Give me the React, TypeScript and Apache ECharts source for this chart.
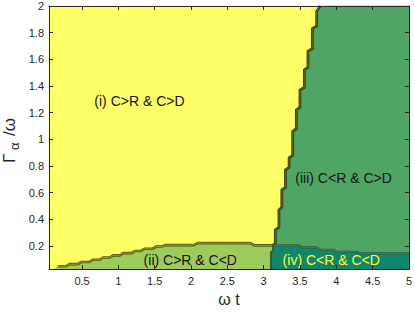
import React, { useEffect, useRef } from 'react';
import * as echarts from 'echarts';

// axis ranges
const xRange: [number, number] = [0.045, 5];
const yRange: [number, number] = [0.027, 2];

// boundary between (i) and (ii), left to right
const boundaryI_II: [number, number][] = [
  [0.12, 0.027], [0.17, 0.048], [0.28, 0.048], [0.33, 0.064], [0.44, 0.064],
  [0.49, 0.08], [0.6, 0.08], [0.65, 0.097], [0.74, 0.097], [0.79, 0.114],
  [0.88, 0.114], [0.93, 0.13], [1.02, 0.13], [1.07, 0.147], [1.18, 0.147],
  [1.23, 0.163], [1.31, 0.163], [1.36, 0.18], [1.47, 0.18], [1.52, 0.196],
  [1.6, 0.196], [1.65, 0.207], [2.04, 0.207], [2.09, 0.222], [2.82, 0.222],
  [2.87, 0.205], [3.13, 0.205],
];

// boundary between (i) and (iii), bottom to top
const boundaryI_III: [number, number][] = [
  [3.13, 0.205], [3.16, 0.22], [3.16, 0.32], [3.21, 0.34], [3.21, 0.47],
  [3.25, 0.49], [3.25, 0.62], [3.3, 0.64], [3.3, 0.77], [3.35, 0.79],
  [3.35, 0.86], [3.4, 0.88], [3.4, 1.06], [3.45, 1.08], [3.45, 1.22],
  [3.5, 1.24], [3.5, 1.37], [3.56, 1.39], [3.56, 1.52], [3.61, 1.54],
  [3.61, 1.66], [3.67, 1.68], [3.67, 1.83], [3.73, 1.85], [3.73, 1.96],
  [3.78, 2.0],
];

// boundary between (iii) and (iv), left to right
const boundaryIII_IV: [number, number][] = [
  [3.13, 0.205], [3.48, 0.205], [3.53, 0.19], [3.73, 0.19], [3.78, 0.172],
  [3.96, 0.172], [4.01, 0.157], [4.28, 0.157], [4.33, 0.145], [5, 0.145],
];

// boundary between (ii) and (iv), bottom to top
const boundaryII_IV: [number, number][] = [
  [3.1, 0.027], [3.1, 0.15], [3.13, 0.17], [3.13, 0.205],
];

// region labels
const regionLabels: { text: string; x: number; y: number }[] = [
  { text: '(i) C>R & C>D', x: 1.29, y: 1.29 },
  { text: '(ii) C>R & C<D', x: 1.99, y: 0.095 },
  { text: '(iii) C<R & C>D', x: 4.1, y: 0.71 },
  { text: '(iv) C<R & C<D', x: 3.93, y: 0.095 },
];

const FONT = "'Liberation Sans', Arial, Helvetica, sans-serif";
const AXIS_COLOR = '#262626';

export default function App() {
  const ref = useRef<HTMLDivElement>(null);

  useEffect(() => {
    const chart = echarts.init(ref.current!, null, { renderer: 'svg' });
    const [x0, x1] = xRange;
    const [y0, y1] = yRange;

    const regionI = [[x0, y1], [x0, y0], ...boundaryI_II, ...boundaryI_III.slice(1)];
    const regionII = [...boundaryI_II, ...[...boundaryII_IV].reverse().slice(1)];
    const regionIII = [...boundaryI_III, [x1, y1], ...[...boundaryIII_IV].reverse()];
    const regionIV = [...boundaryII_IV, ...boundaryIII_IV.slice(1), [x1, y0]];

    const regions = [
      { pts: regionI, fill: '#ffff66' },
      { pts: regionII, fill: '#9dcc5d' },
      { pts: regionIII, fill: '#4fa664' },
      { pts: regionIV, fill: '#10876d' },
    ];
    const labelColors = ['#141414', '#141414', '#141414', '#ffff33'];

    const renderItem = (_params: any, api: any) => {
      const c = (p: number[]) => api.coord(p);
      const children: any[] = [];
      regions.forEach((r) => {
        children.push({
          type: 'polygon',
          shape: { points: r.pts.map(c) },
          style: { fill: r.fill, stroke: r.fill, lineWidth: 0.5 },
          silent: true,
        });
      });
      const band = (pts: number[][], outer: string, inner: string, w: number) => {
        children.push({
          type: 'polyline',
          shape: { points: pts.map(c) },
          style: { stroke: outer, lineWidth: w, fill: null, lineJoin: 'miter' },
          silent: true,
        });
        children.push({
          type: 'polyline',
          shape: { points: pts.map(c) },
          style: { stroke: inner, lineWidth: 1, fill: null, lineJoin: 'miter' },
          silent: true,
        });
      };
      band(boundaryI_II.slice(1), '#55581a', '#999b34', 2.6);
      band(boundaryI_III, '#3a3e12', '#62681e', 2.8);
      band(boundaryIII_IV, '#2c5e38', '#3f8050', 2.2);
      band(boundaryII_IV, '#2d4e22', '#40702e', 2);
      regionLabels.forEach((l, i) => {
        const p = c([l.x, l.y]);
        children.push({
          type: 'text',
          x: p[0],
          y: p[1],
          style: {
            text: l.text,
            fill: labelColors[i],
            font: `14px ${FONT}`,
            align: 'center',
            verticalAlign: 'middle',
          },
          silent: true,
        });
      });
      return { type: 'group', children };
    };

    const baseAxis = {
      type: 'value',
      splitNumber: 10,
      z: 10,
      splitLine: { show: false },
      axisLine: { show: true, onZero: false, lineStyle: { color: AXIS_COLOR, width: 1 } },
      axisTick: { show: true, inside: true, length: 4, lineStyle: { color: AXIS_COLOR, width: 1 } },
    };

    const option: any = {
      animation: false,
      grid: { left: 49, right: 4, top: 6, bottom: 36, containLabel: false },
      xAxis: [
        {
          ...baseAxis,
          min: x0,
          max: x1,
          position: 'bottom',
          axisLabel: {
            showMinLabel: false,
            fontSize: 11,
            fontFamily: FONT,
            color: AXIS_COLOR,
            margin: 6,
          },
          name: 'ω t',
          nameLocation: 'middle',
          nameGap: 21,
          nameTextStyle: { fontSize: 16, fontFamily: FONT, color: AXIS_COLOR },
        },
        {
          ...baseAxis,
          min: x0,
          max: x1,
          position: 'top',
          axisLabel: { show: false },
        },
      ],
      yAxis: [
        {
          ...baseAxis,
          min: y0,
          max: y1,
          position: 'left',
          axisLabel: {
            showMinLabel: false,
            fontSize: 11,
            fontFamily: FONT,
            color: AXIS_COLOR,
            margin: 5,
          },
        },
        {
          ...baseAxis,
          min: y0,
          max: y1,
          position: 'right',
          axisLabel: { show: false },
        },
      ],
      graphic: [
        {
          type: 'group',
          x: 9,
          y: 163,
          rotation: Math.PI / 2,
          children: [
            {
              type: 'text',
              x: 0,
              y: 0,
              style: { text: 'Γ', font: `17px ${FONT}`, fill: AXIS_COLOR, align: 'left', verticalAlign: 'middle' },
            },
            {
              type: 'text',
              x: 13,
              y: 5,
              style: { text: 'α', font: `13px ${FONT}`, fill: AXIS_COLOR, align: 'left', verticalAlign: 'middle' },
            },
            {
              type: 'text',
              x: 27,
              y: 0,
              style: { text: '/ω', font: `17px ${FONT}`, fill: AXIS_COLOR, align: 'left', verticalAlign: 'middle' },
            },
          ],
        },
      ],
      series: [
        {
          type: 'custom',
          xAxisIndex: 0,
          yAxisIndex: 0,
          z: 2,
          renderItem,
          data: [[1, 1]],
          silent: true,
        },
      ],
    };
    chart.setOption(option);
    return () => chart.dispose();
  }, []);

  return (
    <div
      ref={ref}
      style={{ position: 'absolute', left: 0, top: 0, width: 415, height: 312, background: '#ffffff' }}
    />
  );
}
